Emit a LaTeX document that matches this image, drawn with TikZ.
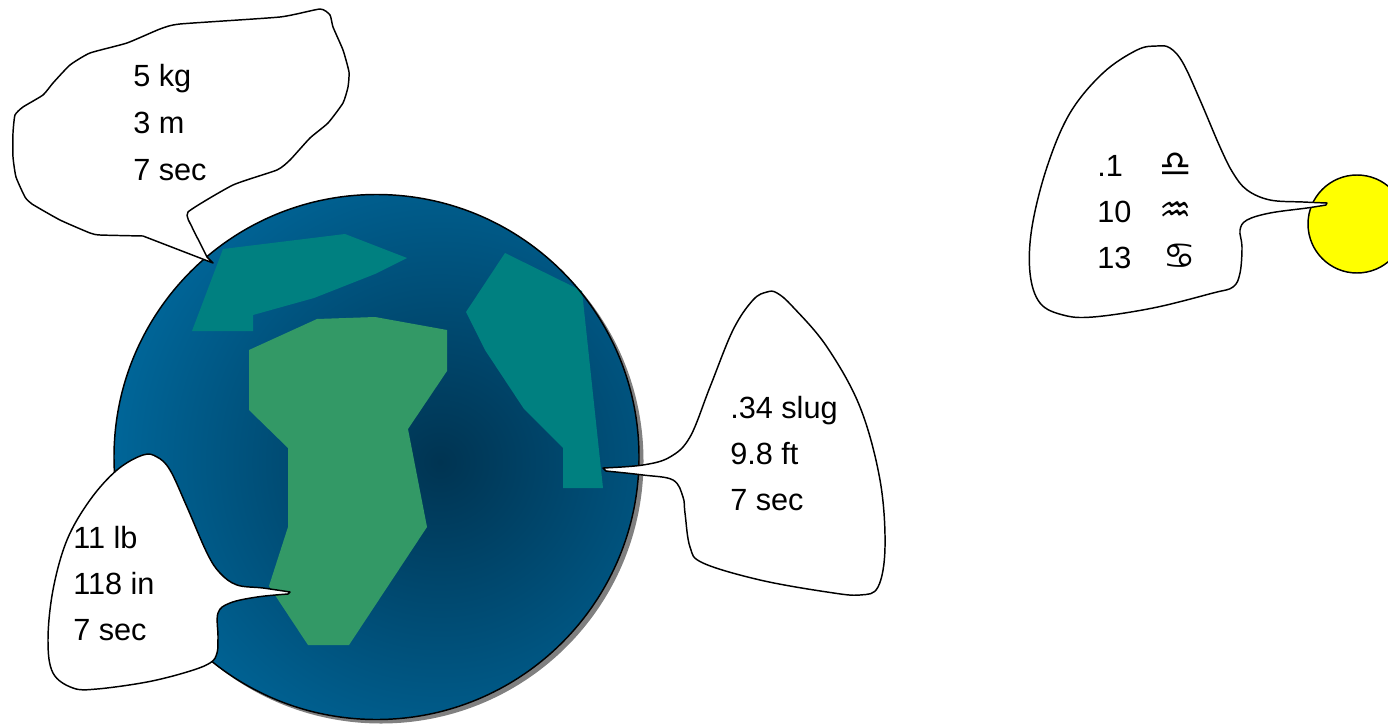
\documentclass[tikz,border=0pt]{standalone}
\usepackage{fontspec}
\setmainfont{Liberation Sans}
\newfontfamily\zodiacfont{DejaVu Sans}

\definecolor{ocean}{RGB}{0,102,153}
\definecolor{oceandeep}{RGB}{0,52,82}
\definecolor{landteal}{RGB}{0,128,128}
\definecolor{landgreen}{RGB}{51,153,102}
\definecolor{shadowgray}{RGB}{128,128,128}
\definecolor{sunyellow}{RGB}{255,255,0}

\tikzset{
    % outline of every speech bubble
    bubble/.style={
      draw=black, line width=1.1pt,
      fill=white,
      line join=round},
    % one line of text inside a bubble
    readout/.style={
      anchor=base west,
      inner sep=0pt,
      font=\fontsize{23}{28}\selectfont},
    sign/.style={
      readout,
      font=\zodiacfont\fontsize{27}{28}\selectfont},
    land/.style={draw=none}
}

\begin{document}
\begin{tikzpicture}[x=0.75pt,y=-0.75pt]
\useasboundingbox (0,0) rectangle (1388,724);

% earth with its drop shadow
\fill[shadowgray] (381,461) circle (262.5);
\begin{scope}
  \clip (376.5,457) circle (262.5);
  \fill[ocean] (376.5,457) circle (262.5);
  \shade[inner color=oceandeep, outer color=ocean] (440,462) circle (330);
\end{scope}
\fill[land, landteal] (223,249) -- (345,234) -- (407,258) -- (375,274) -- (314,298)
  -- (253,315) -- (253,331) -- (192,331) -- cycle;
\fill[land, landgreen] (249,350) -- (317,319) -- (375,317) -- (447,330) -- (447,371)
  -- (408,429) -- (427,527) -- (349,645) -- (308,645) -- (269,586) -- (288,527)
  -- (288,448) -- (249,410) -- cycle;
\fill[land, landteal] (505,253) -- (582,291) -- (603,488) -- (563,488) -- (563,448)
  -- (524,409) -- (485,350) -- (466,312) -- cycle;
\draw[line width=1.1pt] (376.5,457) circle (262.5);

% the sun
\filldraw[fill=sunyellow, draw=black, line width=1.1pt] (1357,224) circle (49);

% bubbles
\filldraw[bubble] (143,236) -- (213,263)
  -- plot[smooth, tension=0.3] coordinates {(207,257) (200,243) (192,227) (188,212)
  (233,185) (277,170) (290,160) (310,138) (328,123) (343,103) (348,87) (349,72)
  (343,50) (333,27) (330,15) (320,9) (280,17) (180,24) (160,29) (127,43) (90,53)
  (70,65) (53,83) (43,95) (23,107) (15,115) (13,133) (13,157) (16,177) (25,197)
  (32,204) (60,220) (90,233) (100,235) (143,236)} -- cycle;

\filldraw[bubble] plot[smooth, tension=0.6] coordinates {(603,468) (643,465) (670,457)
  (690,437) (710,387) (733,330) (753,300) (767,292) (777,293) (793,307) (827,347)
  (860,407) (880,480) (885,547) (878,587) (860,595) (827,592) (760,580) (703,563)
  (690,547) (685,513) (683,497) (673,480) (643,475) (606,471)} -- cycle;

\filldraw[bubble] plot[smooth, tension=0.6] coordinates {(290,592) (263,588) (237,585)
  (220,573) (207,553) (187,507) (170,470) (157,457) (143,455) (117,470) (90,500)
  (67,540) (53,590) (48,640) (53,673) (73,688) (97,689) (147,682) (187,672)
  (210,663) (217,653) (218,637) (218,613) (230,603) (257,597) (288,594)} -- cycle;

\filldraw[bubble] plot[smooth, tension=0.6] coordinates {(1327,203) (1303,202)
  (1270,200) (1247,190) (1233,173) (1220,147) (1200,100) (1183,63) (1170,48)
  (1157,46) (1137,50) (1103,73) (1070,113) (1047,167) (1032,227) (1030,273)
  (1040,303) (1063,315) (1093,317) (1153,308) (1213,293) (1233,287) (1240,273)
  (1242,247) (1240,230) (1247,220) (1270,213) (1307,208) (1326,205)} -- cycle;

% readings
\node[readout] (kg)   at (133,87)  {5 kg};
\node[readout] (m)    at (133,133) {3 m};
\node[readout] (sec)  at (133,180) {7 sec};

\node[readout] (slug) at (730,418) {.34 slug};
\node[readout] (ft)   at (730,464) {9.8 ft};
\node[readout] (secb) at (730,510) {7 sec};

\node[readout] (lb)   at (73,548)  {11 lb};
\node[readout] (in)   at (73,594)  {118 in};
\node[readout] (secc) at (73,640)  {7 sec};

\node[readout] (tenth) at (1097,176) {.1};
\node[readout] (ten)   at (1097,222) {10};
\node[readout] (thirt) at (1097,268) {13};
\node[sign] (libra) at (1159,176) {♎};
\node[sign] (aqua)  at (1159,222) {♒};
\node[sign] (crab)  at (1163,268) {♋};
\end{tikzpicture}
\end{document}
